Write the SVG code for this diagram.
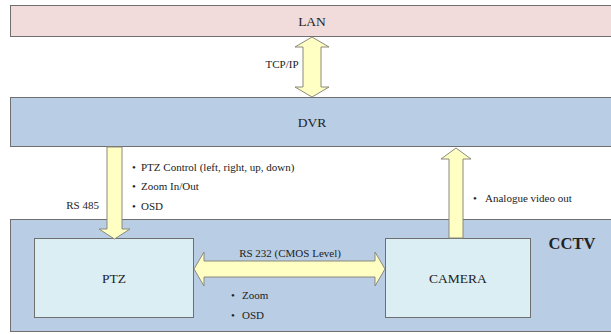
<svg xmlns="http://www.w3.org/2000/svg" width="611" height="334" viewBox="0 0 611 334">
<style>
.box{stroke:#6f6f6f;stroke-width:1}
.lan{fill:#f2dcdb}
.blue{fill:#b9cde5}
.inner{fill:#dbeef4}
.arr{fill:#ffffc4;stroke:#8a8a7a;stroke-width:1;stroke-linejoin:miter}
text{font-family:"Liberation Serif","Times New Roman",serif;fill:#222}
.big{font-size:13.5px}
.sm{font-size:11px}
.cctv{font-size:16.5px;font-weight:bold}
</style>
<rect width="611" height="334" fill="#ffffff"/>
<g id="cctv">
<rect class="box blue" x="10.5" y="219.5" width="605" height="112"/>
<text class="cctv" x="572" y="249" text-anchor="middle">CCTV</text>
</g>
<g id="lan">
<rect class="box lan" x="10.5" y="5.5" width="605" height="31"/>
<text class="big" x="312" y="26" text-anchor="middle">LAN</text>
</g>
<g id="dvr">
<rect class="box blue" x="10.5" y="97.5" width="605" height="49"/>
<text class="big" x="312" y="127" text-anchor="middle">DVR</text>
</g>
<g id="ptz">
<rect class="box inner" x="34.5" y="238.5" width="159" height="79"/>
<text class="big" x="114" y="283" text-anchor="middle">PTZ</text>
</g>
<g id="camera">
<rect class="box inner" x="385.5" y="238.5" width="145" height="79"/>
<text class="big" x="458" y="283" text-anchor="middle">CAMERA</text>
</g>
<g id="connectors">
<polygon class="arr" points="312,37 329,47 321,47 321,87 329,87 312,97 295,87 303,87 303,47 295,47"/>
<polygon class="arr" points="107,147 122,147 122,229 130,229 114.5,239 99,229 107,229"/>
<polygon class="arr" points="456,148 471,159 463,159 463,238 449,238 449,159 441,159"/>
<polygon class="arr" points="194,269 204,252 204,261 375,261 375,252 385,269 375,286 375,277 204,277 204,286"/>
</g>
<g id="labels">
<text class="sm" x="282" y="68" text-anchor="middle">TCP/IP</text>
<text class="sm" x="99" y="209" text-anchor="end">RS 485</text>
<text class="sm" x="132" y="171">•</text><text class="sm" x="141" y="171">PTZ Control (left, right, up, down)</text>
<text class="sm" x="132" y="190">•</text><text class="sm" x="141" y="190">Zoom In/Out</text>
<text class="sm" x="132" y="210">•</text><text class="sm" x="141" y="210">OSD</text>
<text class="sm" x="473" y="202">•</text><text class="sm" x="485" y="202">Analogue video out</text>
<text class="sm" x="290" y="257" text-anchor="middle">RS 232 (CMOS Level)</text>
<text class="sm" x="231" y="299">•</text><text class="sm" x="242" y="299">Zoom</text>
<text class="sm" x="231" y="319">•</text><text class="sm" x="242" y="319">OSD</text>
</g>
</svg>
